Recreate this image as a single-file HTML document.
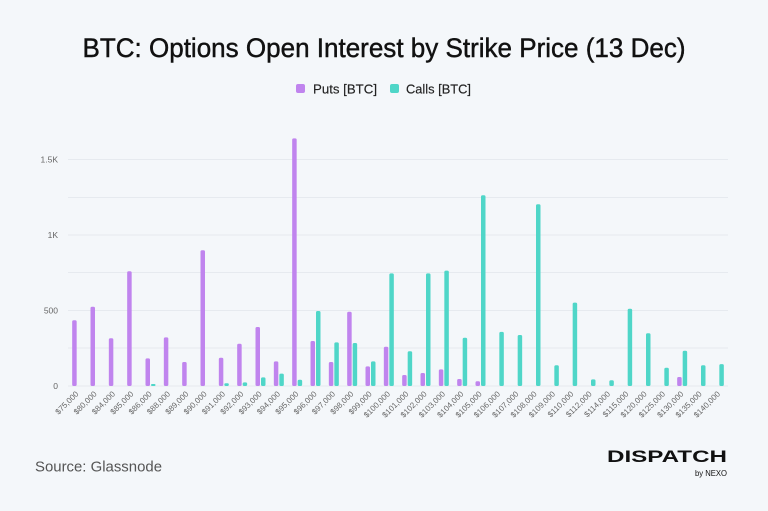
<!DOCTYPE html>
<html><head><meta charset="utf-8"><style>
html,body{margin:0;padding:0;background:#f4f7fa;}
svg{display:block;}
text{font-family:"Liberation Sans",Arial,sans-serif;}
</style></head><body>
<svg width="768" height="511" viewBox="0 0 768 511" xmlns="http://www.w3.org/2000/svg">
<rect width="768" height="511" fill="#f4f7fa"/>
<text x="384" y="57" font-size="27" fill="#111" stroke="#111" stroke-width="0.45" text-anchor="middle" textLength="603" lengthAdjust="spacingAndGlyphs">BTC: Options Open Interest by Strike Price (13 Dec)</text>
<rect x="296" y="84" width="9" height="9" rx="2" fill="#c084ee"/>
<text x="313" y="93.5" font-size="12.5" fill="#222" stroke="#222" stroke-width="0.15" textLength="64" lengthAdjust="spacingAndGlyphs">Puts [BTC]</text>
<rect x="390" y="84" width="9" height="9" rx="2" fill="#4fd6c8"/>
<text x="406" y="93.5" font-size="12.5" fill="#222" stroke="#222" stroke-width="0.15" textLength="65" lengthAdjust="spacingAndGlyphs">Calls [BTC]</text>
<g stroke="#e6eaef" stroke-width="1">
<line x1="68" x2="728" y1="159.5" y2="159.5"/>
<line x1="68" x2="728" y1="197.5" y2="197.5"/>
<line x1="68" x2="728" y1="235" y2="235"/>
<line x1="68" x2="728" y1="272.5" y2="272.5"/>
<line x1="68" x2="728" y1="310.5" y2="310.5"/>
<line x1="68" x2="728" y1="348" y2="348"/>
<line x1="68" x2="728" y1="386" y2="386"/>
</g>
<g font-size="8.5" fill="#666" text-anchor="end">
<text x="58" y="162.5">1.5K</text>
<text x="58" y="238">1K</text>
<text x="58" y="313.5">500</text>
<text x="58" y="389">0</text>
</g>
<g fill="#c084ee">
<rect x="72.17" y="320.3" width="4.5" height="65.7" rx="1.5"/>
<rect x="90.5" y="306.7" width="4.5" height="79.3" rx="1.5"/>
<rect x="108.83" y="338.3" width="4.5" height="47.7" rx="1.5"/>
<rect x="127.17" y="271.2" width="4.5" height="114.8" rx="1.5"/>
<rect x="145.5" y="358.4" width="4.5" height="27.6" rx="1.5"/>
<rect x="163.83" y="337.4" width="4.5" height="48.6" rx="1.5"/>
<rect x="182.17" y="362" width="4.5" height="24" rx="1.5"/>
<rect x="200.5" y="250.3" width="4.5" height="135.7" rx="1.5"/>
<rect x="218.83" y="357.8" width="4.5" height="28.2" rx="1.5"/>
<rect x="237.17" y="343.7" width="4.5" height="42.3" rx="1.5"/>
<rect x="255.5" y="327" width="4.5" height="59" rx="1.5"/>
<rect x="273.83" y="361.4" width="4.5" height="24.6" rx="1.5"/>
<rect x="292.17" y="138.4" width="4.5" height="247.6" rx="1.5"/>
<rect x="310.5" y="341" width="4.5" height="45" rx="1.5"/>
<rect x="328.83" y="362" width="4.5" height="24" rx="1.5"/>
<rect x="347.17" y="311.7" width="4.5" height="74.3" rx="1.5"/>
<rect x="365.5" y="366.4" width="4.5" height="19.6" rx="1.5"/>
<rect x="383.83" y="346.7" width="4.5" height="39.3" rx="1.5"/>
<rect x="402.17" y="375" width="4.5" height="11" rx="1.5"/>
<rect x="420.5" y="373" width="4.5" height="13" rx="1.5"/>
<rect x="438.83" y="369.4" width="4.5" height="16.6" rx="1.5"/>
<rect x="457.17" y="379" width="4.5" height="7" rx="1.5"/>
<rect x="475.5" y="381.3" width="4.5" height="4.7" rx="1.5"/>
<rect x="677.17" y="377" width="4.5" height="9" rx="1.5"/>
</g>
<g fill="#4fd6c8">
<rect x="151" y="384" width="4.5" height="2" rx="1"/>
<rect x="224.33" y="383.3" width="4.5" height="2.7" rx="1.2"/>
<rect x="242.67" y="382.4" width="4.5" height="3.6" rx="1.5"/>
<rect x="261" y="377.4" width="4.5" height="8.6" rx="1.5"/>
<rect x="279.33" y="373.6" width="4.5" height="12.4" rx="1.5"/>
<rect x="297.67" y="379.7" width="4.5" height="6.3" rx="1.5"/>
<rect x="316" y="311" width="4.5" height="75" rx="1.5"/>
<rect x="334.33" y="342.4" width="4.5" height="43.6" rx="1.5"/>
<rect x="352.67" y="343" width="4.5" height="43" rx="1.5"/>
<rect x="371" y="361.4" width="4.5" height="24.6" rx="1.5"/>
<rect x="389.33" y="273.4" width="4.5" height="112.6" rx="1.5"/>
<rect x="407.67" y="351.3" width="4.5" height="34.7" rx="1.5"/>
<rect x="426" y="273.4" width="4.5" height="112.6" rx="1.5"/>
<rect x="444.33" y="270.6" width="4.5" height="115.4" rx="1.5"/>
<rect x="462.67" y="337.7" width="4.5" height="48.3" rx="1.5"/>
<rect x="481" y="195.3" width="4.5" height="190.7" rx="1.5"/>
<rect x="499.33" y="331.9" width="4.5" height="54.1" rx="1.5"/>
<rect x="517.67" y="335" width="4.5" height="51" rx="1.5"/>
<rect x="536" y="204.3" width="4.5" height="181.7" rx="1.5"/>
<rect x="554.33" y="365.3" width="4.5" height="20.7" rx="1.5"/>
<rect x="572.67" y="302.6" width="4.5" height="83.4" rx="1.5"/>
<rect x="591" y="379.4" width="4.5" height="6.6" rx="1.5"/>
<rect x="609.33" y="380.3" width="4.5" height="5.7" rx="1.5"/>
<rect x="627.67" y="308.7" width="4.5" height="77.3" rx="1.5"/>
<rect x="646" y="333.3" width="4.5" height="52.7" rx="1.5"/>
<rect x="664.33" y="367.7" width="4.5" height="18.3" rx="1.5"/>
<rect x="682.67" y="350.7" width="4.5" height="35.3" rx="1.5"/>
<rect x="701" y="365.3" width="4.5" height="20.7" rx="1.5"/>
<rect x="719.33" y="364.1" width="4.5" height="21.9" rx="1.5"/>
</g>
<g font-size="8" fill="#666" text-anchor="end">
<text transform="translate(79,394.5) rotate(-45)">$75,000</text>
<text transform="translate(97.3,394.5) rotate(-45)">$80,000</text>
<text transform="translate(115.6,394.5) rotate(-45)">$84,000</text>
<text transform="translate(134,394.5) rotate(-45)">$85,000</text>
<text transform="translate(152.3,394.5) rotate(-45)">$86,000</text>
<text transform="translate(170.6,394.5) rotate(-45)">$88,000</text>
<text transform="translate(189,394.5) rotate(-45)">$89,000</text>
<text transform="translate(207.3,394.5) rotate(-45)">$90,000</text>
<text transform="translate(225.6,394.5) rotate(-45)">$91,000</text>
<text transform="translate(244,394.5) rotate(-45)">$92,000</text>
<text transform="translate(262.3,394.5) rotate(-45)">$93,000</text>
<text transform="translate(280.6,394.5) rotate(-45)">$94,000</text>
<text transform="translate(299,394.5) rotate(-45)">$95,000</text>
<text transform="translate(317.3,394.5) rotate(-45)">$96,000</text>
<text transform="translate(335.6,394.5) rotate(-45)">$97,000</text>
<text transform="translate(354,394.5) rotate(-45)">$98,000</text>
<text transform="translate(372.3,394.5) rotate(-45)">$99,000</text>
<text transform="translate(390.6,394.5) rotate(-45)">$100,000</text>
<text transform="translate(409,394.5) rotate(-45)">$101,000</text>
<text transform="translate(427.3,394.5) rotate(-45)">$102,000</text>
<text transform="translate(445.6,394.5) rotate(-45)">$103,000</text>
<text transform="translate(464,394.5) rotate(-45)">$104,000</text>
<text transform="translate(482.3,394.5) rotate(-45)">$105,000</text>
<text transform="translate(500.6,394.5) rotate(-45)">$106,000</text>
<text transform="translate(519,394.5) rotate(-45)">$107,000</text>
<text transform="translate(537.3,394.5) rotate(-45)">$108,000</text>
<text transform="translate(555.6,394.5) rotate(-45)">$109,000</text>
<text transform="translate(574,394.5) rotate(-45)">$110,000</text>
<text transform="translate(592.3,394.5) rotate(-45)">$112,000</text>
<text transform="translate(610.6,394.5) rotate(-45)">$114,000</text>
<text transform="translate(629,394.5) rotate(-45)">$115,000</text>
<text transform="translate(647.3,394.5) rotate(-45)">$120,000</text>
<text transform="translate(665.6,394.5) rotate(-45)">$125,000</text>
<text transform="translate(684,394.5) rotate(-45)">$130,000</text>
<text transform="translate(702.3,394.5) rotate(-45)">$135,000</text>
<text transform="translate(720.6,394.5) rotate(-45)">$140,000</text>
</g>
<text x="35" y="471.5" font-size="15" fill="#555" textLength="127" lengthAdjust="spacingAndGlyphs">Source: Glassnode</text>
<text x="607" y="462" font-size="16.5" font-weight="bold" fill="#111" textLength="120" lengthAdjust="spacingAndGlyphs">DISPATCH</text>
<text x="727" y="476" font-size="8.5" fill="#111" text-anchor="end" textLength="32" lengthAdjust="spacingAndGlyphs">by NEXO</text>
</svg>
</body></html>
